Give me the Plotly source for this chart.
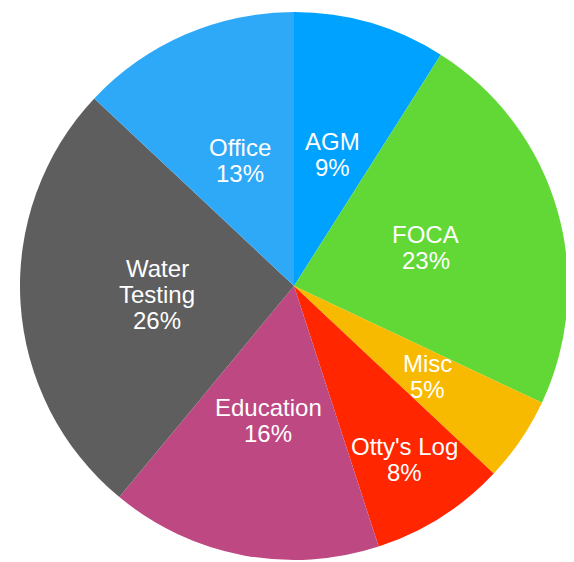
import math
import plotly.graph_objects as go

labels = ["AGM", "FOCA", "Misc", "Otty's Log", "Education", "Water Testing", "Office"]
label_lines = [["AGM"], ["FOCA"], ["Misc"], ["Otty's Log"], ["Education"], ["Water", "Testing"], ["Office"]]
values = [9, 23, 5, 8, 16, 26, 13]
colors = ["#00A2FF", "#61D836", "#F8BA00", "#FF2600", "#BE4882", "#5E5E5E", "#2EA9F8"]
# radial placement of each label, as a fraction of the radius
label_radius = [0.5, 0.5, 0.59, 0.75, 0.5, 0.5, 0.5]

W, H = 574, 562
CX, CY, R = 286, 278, 274   # pie centre / radius in figure pixels
FONT = "Liberation Sans, Arial, Helvetica, sans-serif"
FS = 24
LINE = 26

fig = go.Figure(go.Pie(
    labels=labels,
    values=values,
    sort=False,
    direction="clockwise",
    rotation=0,
    marker=dict(colors=colors, line=dict(width=0)),
    textinfo="none",
    showlegend=False,
    hoverinfo="label+percent",
    domain=dict(x=[(CX - R) / W, (CX + R) / W], y=[(H - CY - R) / H, (H - CY + R) / H]),
))

total = sum(values)
cum = 0
annotations = []
for lines, v, rf in zip(label_lines, values, label_radius):
    mid = (cum + v / 2) / total * 2 * math.pi
    cum += v
    px = CX + rf * R * math.sin(mid)
    py = CY - rf * R * math.cos(mid)
    all_lines = lines + [f"{round(100 * v / total)}%"]
    n = len(all_lines)
    for i, t in enumerate(all_lines):
        ly = py + (i - (n - 1) / 2) * LINE
        annotations.append(dict(
            x=px / W, y=1 - ly / H, xref="paper", yref="paper",
            text=t, showarrow=False, xanchor="center", yanchor="middle",
            font=dict(family=FONT, size=FS, color="white"),
        ))

fig.update_layout(
    width=W, height=H,
    margin=dict(l=0, r=0, t=0, b=0),
    paper_bgcolor="white",
    plot_bgcolor="white",
    annotations=annotations,
)
fig.write_html("out.html")
